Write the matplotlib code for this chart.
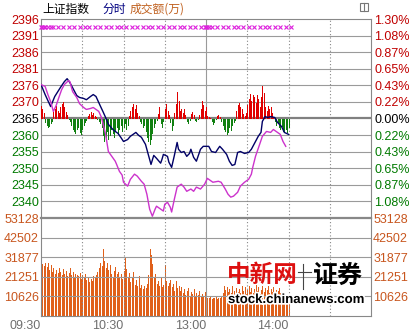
import matplotlib
matplotlib.use("Agg")
import matplotlib.pyplot as plt
import matplotlib.patheffects as pe
from matplotlib.lines import Line2D
from matplotlib.patches import Rectangle
from matplotlib.transforms import blended_transform_factory
import numpy as np

plt.rcParams['font.family'] = ['Liberation Sans', 'Noto Sans CJK SC', 'DejaVu Sans']

# 昨收 / axis labels
pre_close = 2365.3
price_labels = ['2396', '2391', '2386', '2381', '2376', '2370', '2365',
                '2360', '2355', '2350', '2345', '2340']
pct_labels = ['1.30%', '1.08%', '0.87%', '0.65%', '0.43%', '0.22%', '0.00%',
              '0.22%', '0.43%', '0.65%', '0.87%', '1.08%']
vol_ticks = [10626, 21251, 31877, 42502, 53128]
time_labels = ['09:30', '10:30', '13:00', '14:00']
time_label_min = [0, 60, 120, 180]

# 分时 lines (trading minutes since 09:30, index value)
navy_t = [0, 3, 7, 10, 14, 17, 19, 21, 23, 26, 28, 31, 33, 36, 38, 40, 43, 45, 47, 49,
          51, 53, 56, 58, 60, 63, 65, 67, 69, 71, 73, 76, 78, 80, 82, 84, 87, 88, 89, 92,
          93, 95, 97, 99, 100, 102, 104, 106, 108, 109, 111, 113, 116, 118, 120, 122, 124, 127, 129, 130,
          132, 135, 137, 139, 141, 143, 145, 148, 151, 153, 156, 158, 160, 161, 163, 165, 167, 170, 172, 175,
          177, 180]
navy_p = [2375.8, 2372.7, 2369.0, 2372.1, 2374.8, 2376.7, 2377.6, 2376.4, 2374.8, 2372.4,
          2371.8, 2371.5, 2371.1, 2372.1, 2372.7, 2372.1, 2369.3, 2367.5, 2365.6, 2363.5,
          2362.5, 2361.6, 2360.7, 2359.5, 2358.2, 2358.8, 2359.8, 2360.4, 2361.0, 2360.1,
          2359.5, 2357.3, 2354.2, 2351.1, 2353.9, 2353.0, 2351.5, 2352.7, 2354.2, 2353.6,
          2351.8, 2350.2, 2353.9, 2357.9, 2355.8, 2354.8, 2355.1, 2353.6, 2354.5, 2355.8,
          2353.3, 2352.1, 2355.8, 2356.7, 2356.7, 2356.7, 2355.1, 2354.8, 2356.1, 2356.7,
          2355.8, 2354.2, 2352.1, 2350.8, 2351.1, 2354.8, 2355.1, 2354.5, 2354.8, 2355.8,
          2358.2, 2359.8, 2361.0, 2364.4, 2365.9, 2365.6, 2365.9, 2365.6, 2364.1, 2362.8,
          2361.0, 2360.4]

mag_t = [0, 3, 5, 7, 9, 11, 13, 15, 17, 20, 21, 23, 26, 28, 31, 33, 36, 38, 40, 42,
         44, 47, 49, 52, 54, 55, 57, 59, 60, 63, 65, 68, 70, 73, 75, 77, 79, 81, 83, 84,
         87, 89, 90, 92, 94, 95, 97, 99, 102, 104, 106, 109, 111, 113, 116, 119, 121, 123, 125, 129,
         131, 134, 136, 138, 140, 143, 145, 148, 151, 153, 154, 156, 159, 161, 164, 167, 169, 171, 174, 176,
         178]
mag_p = [2375.8, 2375.2, 2372.7, 2370.5, 2367.5, 2369.3, 2371.8, 2374.2, 2375.8, 2377.0,
         2376.7, 2373.6, 2371.8, 2369.9, 2368.7, 2368.1, 2368.4, 2368.7, 2368.1, 2367.5,
         2365.6, 2360.4, 2355.1, 2353.3, 2352.1, 2351.1, 2349.0, 2347.8, 2345.6, 2344.4,
         2346.5, 2348.1, 2347.5, 2345.9, 2345.0, 2341.9, 2337.3, 2335.1, 2337.3, 2338.2,
         2337.3, 2336.7, 2338.8, 2339.4, 2337.9, 2336.4, 2340.4, 2344.1, 2345.0, 2344.1,
         2342.8, 2343.5, 2342.8, 2344.1, 2343.5, 2345.0, 2346.8, 2346.2, 2345.6, 2345.9,
         2345.6, 2343.5, 2341.9, 2341.0, 2341.3, 2342.5, 2344.4, 2345.6, 2346.5, 2348.1,
         2350.2, 2353.6, 2357.3, 2359.8, 2361.3, 2361.0, 2361.9, 2361.3, 2360.4, 2358.2,
         2356.7]

# red/green strength bars, one per minute
updown = [13, 10, 6, -5, -8, -10, -9, -6, -4, 7,
          10, 13, 8, 6, 12, 15, 17, 12, 7, 4,
          -2, -4, -8, -12, -14, -16, -12, -10, -15, -17,
          -12, -8, -5, -3, 3, 5, 7, 4, 6, 3,
          2, -2, -4, -6, -10, -18, -24, -20, -14, -22,
          -18, -12, -16, -20, -14, -10, -16, -12, -8, -14,
          -10, -6, -12, -8, 3, 8, 12, 15, 10, 14,
          6, 3, -4, -6, -10, -8, -14, -20, -24, -27,
          -22, -16, -10, -6, -3, 5, 12, -6, -10, -4,
          10, 15, 8, 4, -5, -13, -8, 6, 15, 27,
          18, 8, 10, 6, 10, 4, -4, -6, -3, 5,
          7, 4, -3, -4, -2, 4, 10, 18, 14, 8,
          12, 3, 2, 1, -4, -7, -5, -2, 3, 4,
          2, -4, -8, -12, -14, -17, -15, -10, -13, -8,
          -5, -3, 8, 14, 16, 12, 10, 5, 3, 6,
          14, 20, 25, 18, 24, 22, 16, 24, 20, 12,
          22, 33, 26, 12, 8, 13, 10, 12, 6, 2,
          -4, -8, -6, -10, -12, -9, -14, -15, -12, -15, -10]

# 成交额(万) per minute
volume = [48800, 28000, 27000, 29000, 26500, 28500, 25000, 27500, 24000, 26000,
          22500, 25000, 23500, 26000, 24000, 22000, 25500, 23000, 24500, 21500,
          23500, 26000, 22000, 24000, 21000, 23000, 22000, 21500, 23500, 20000,
          22000, 21000, 23000, 19500, 21000, 18500, 20000, 19000, 21500, 20500,
          22000, 24000, 26000, 28500, 27000, 36300, 30000, 26000, 28500, 25000,
          27500, 23000, 21000, 24500, 26500, 22500, 24000, 21000, 23000, 20000,
          24500, 32000, 25500, 21000, 23500, 18500, 20500, 24000, 17000, 19500,
          16000, 21500, 15000, 17000, 14500, 16500, 15000, 17500, 22000, 36300,
          33000, 28000, 21000, 23000, 17500, 19000, 16500, 20500, 15500, 17000,
          27600, 19000, 16500, 18000, 19500, 15500, 17500, 13500, 19000, 15000,
          16000, 13500, 15500, 12500, 14500, 11500, 13500, 15000, 11000, 13000,
          12000, 14500, 10500, 12500, 11500, 13500, 10500, 12000, 11000, 13000,
          27000, 10000, 9500, 10500, 9000, 10000, 9500, 10500, 9000, 10000,
          9500, 10500, 12500, 16000, 14000, 15500, 13000, 14500, 12500, 16500,
          13500, 12000, 15000, 13000, 14500, 12500, 16000, 13500, 15500, 12000,
          14000, 16500, 13000, 15000, 12500, 14500, 17000, 13500, 15500, 12000,
          14000, 16500, 13000, 15000, 14000, 16000, 12500, 14500, 13000, 15500,
          12000, 14000, 13500, 15000, 12500, 11000, 12000, 10500, 11500, 10000, 11000]

# signal markers along the top
marker_t = [0, 1, 2, 3, 5, 7, 9, 12, 16, 20, 24, 28, 32, 35, 39, 43, 47, 51, 55, 58,
            62, 66, 70, 74, 78, 81, 85, 89, 93, 97, 101, 104, 108, 112, 116, 119,
            120, 121, 122, 124, 128, 132, 136, 140, 143, 147, 151, 155, 159, 163, 166,
            170, 174, 178, 182]

W, H = 417, 333
grid_c = '#9a9a9a'
red_c = '#c00000'
green_c = '#007a00'
orange_c = '#c8561e'

fig = plt.figure(figsize=(W / 100, H / 100), dpi=100)


def box(l, t, r, b):
    return [l / W, 1 - b / H, (r - l) / W, (b - t) / H]


ax = fig.add_axes(box(41, 19, 371, 218))
axv = fig.add_axes(box(41, 218, 371, 316))
axb = ax.twinx()
axl = ax.twinx()

steps = np.arange(6, -6, -1)
levels = pre_close * (1 + steps * 0.013 / 6)
lo, hi = pre_close * (1 - 0.013), pre_close * (1 + 0.013)

for a in (ax, axl):
    a.set_ylim(lo, hi)
ax.set_xlim(0, 240)
axv.set_xlim(0, 240)
axb.set_ylim(-100, 100)

# grid
for k, lv in zip(steps[1:], levels[1:]):
    if k == 0:
        ax.axhline(lv, color='#808080', lw=1.6)
    else:
        ax.axhline(lv, color=grid_c, lw=0.8)
for v in vol_ticks[:-1]:
    axv.axhline(v, color=grid_c, lw=0.8)
for t in [30, 60, 90, 120, 150, 180, 210]:
    for a in (ax, axv):
        if t == 120:
            a.axvline(t, color=grid_c, lw=0.8)
        else:
            a.axvline(t, color='#888888', lw=0.8, ls=(0, (1, 2)))

# bars
m = np.arange(len(updown))
ud = np.array(updown)
axb.bar(m, ud, width=0.75, align='edge', color=np.where(ud > 0, '#e00000', '#108010'), lw=0)
axv.bar(np.arange(len(volume)), volume, width=0.75, align='edge', color='#e0601a', lw=0)
axv.set_ylim(0, vol_ticks[-1])

# lines
axl.plot(navy_t, navy_p, color='#000066', lw=1.0)
axl.plot(mag_t, mag_p, color='#cc33cc', lw=1.0)
trans = blended_transform_factory(axl.transData, axl.transAxes)
axl.plot(marker_t, [0.96] * len(marker_t), ls='none', marker='x', ms=3.2, mew=0.8,
         color='#dd22dd', transform=trans, clip_on=False)

# ticks / labels
ax.set_xticks([])
ax.set_yticks(levels, price_labels)
axl.set_yticks(levels, pct_labels)
cols = [red_c if k > 0 else ('black' if k == 0 else green_c) for k in steps]
for lbl, c in zip(ax.get_yticklabels(), cols):
    lbl.set_color(c)
for lbl, c in zip(axl.get_yticklabels(), cols):
    lbl.set_color(c)
ax.tick_params(length=0, pad=1.5, labelsize=9)
axl.tick_params(length=0, pad=2.5, labelsize=9)
axb.set_axis_off()

axv.set_yticks(vol_ticks)
axv.set_yticklabels([str(v) for v in vol_ticks])
axv.tick_params(axis='y', length=0, pad=1.5, labelsize=9, labelcolor=orange_c,
                labelleft=True, labelright=True)
axv.set_xticks(time_label_min, time_labels)
axv.tick_params(axis='x', length=0, pad=3, labelsize=9, labelcolor='#6e6e6e')
for lbl in axv.get_xticklabels():
    lbl.set_ha('right')

for s in ax.spines.values():
    s.set_color('#888888')
    s.set_linewidth(0.8)
ax.spines['bottom'].set_visible(False)
for s in axl.spines.values():
    s.set_visible(False)
for s in axv.spines.values():
    s.set_color('#888888')
    s.set_linewidth(0.8)
axv.spines['top'].set_linewidth(1.6)

# title
cjk = ['Noto Sans CJK SC', 'DejaVu Sans']
fig.text(42 / W, 1 - 9 / H, '上证指数', fontsize=8.5, family=cjk, va='center', color='black')
fig.text(102 / W, 1 - 9 / H, '分时', fontsize=8.5, family=cjk, va='center', color='#000080')
fig.text(130 / W, 1 - 9 / H, '成交额(万)', fontsize=8.5, family=cjk, va='center', color='#c0601e')
fig.add_artist(Rectangle((360 / W, 1 - 11 / H), 8 / W, 8 / H, transform=fig.transFigure,
                         fill=False, ec='#777777', lw=0.8))
fig.add_artist(Line2D([364 / W, 364 / W], [1 - 11 / H, 1 - 3 / H], color='#777777', lw=0.8))

# watermark
fig.text(227 / W, 1 - 275 / H, '中新网', fontsize=17, fontweight='black', family=cjk,
         color='#dd1010', va='center', zorder=5)
fig.add_artist(Line2D([303 / W, 303 / W], [1 - 264 / H, 1 - 289 / H], color='#444444', lw=0.8))
fig.add_artist(Line2D([298 / W, 311 / W], [1 - 272 / H, 1 - 272 / H], color='#444444', lw=0.8))
fig.text(313 / W, 1 - 276 / H, '证券', fontsize=18, fontweight='black', family=cjk,
         color='black', va='center', zorder=5)
fig.text(228 / W, 1 - 300 / H, 'stock.chinanews.com', fontsize=9.5, fontweight='bold',
         color='black', va='center', zorder=5,
         path_effects=[pe.withStroke(linewidth=2.5, foreground='white')])

fig.savefig('out.png', dpi=100)
